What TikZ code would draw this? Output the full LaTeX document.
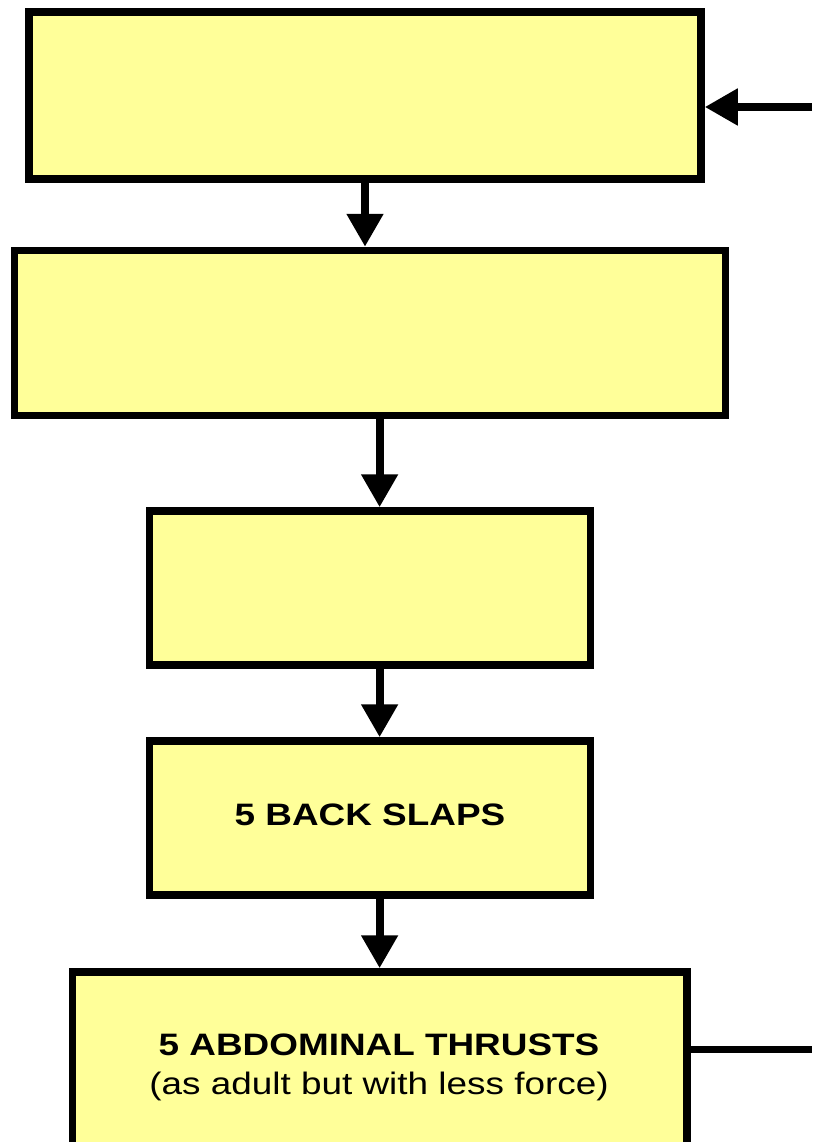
\documentclass[tikz,border=0pt]{standalone}
\usepackage{fontspec}
\setmainfont{Liberation Sans}
\usetikzlibrary{arrows.meta}
\definecolor{boxyellow}{HTML}{FFFF99}
\newcommand{\wide}[1]{\scalebox{1.19}[1]{#1}}
\tikzset{
  stepbox/.style={draw=black, fill=boxyellow, line width=7.5pt, rectangle,
    inner sep=0pt, align=center, font=\fontsize{31}{36}\selectfont\bfseries},
  flow/.style={line width=8pt, -{Triangle[length=33pt,width=35pt]}},
  link/.style={line width=7.5pt},
  caption/.style={inner sep=0pt, anchor=base, font=\fontsize{31}{36}\selectfont}
}
\begin{document}
\begin{tikzpicture}[x=1pt, y=-1pt]
  % page area
  \fill[white] (0,0) rectangle (812,1142);
  \clip (0,0) rectangle (812,1142);

  % boxes
  \node[stepbox, minimum width=672pt, minimum height=167pt] (b1) at (365,95.5) {};
  \node[stepbox, minimum width=711pt, minimum height=165pt] (b2) at (370,333) {};
  \node[stepbox, minimum width=441pt, minimum height=154pt] (b3) at (370,588) {};
  \node[stepbox, minimum width=441pt, minimum height=154pt, text depth=6pt] (b4) at (370,818) {\wide{5 BACK SLAPS}};
  \node[stepbox, minimum width=614.5pt, minimum height=200pt] (b5) at (379.75,1072) {};

  % text of the last box
  \node[caption, font=\fontsize{31}{36}\selectfont\bfseries] (t5a) at (379,1055) {\wide{5 ABDOMINAL THRUSTS}};
  \node[caption] (t5b) at (379,1094) {\wide{(as adult but with less force)}};

  % connector ends at the page edge
  \coordinate (in1) at (812,107);
  \coordinate (out5) at (812,1049.5);
  \coordinate (col) at (379.6,0);

  % arrows
  \draw[flow] (b1.south) -- (b1.south |- b2.north);
  \draw[flow] (b2.south -| col) -- (b3.north -| col);
  \draw[flow] (b3.south -| col) -- (b4.north -| col);
  \draw[flow] (b4.south -| col) -- (b5.north -| col);
  \draw[flow] (in1) -- (in1 -| b1.east);
  \draw[link] (out5 -| b5.east) -- (out5);
\end{tikzpicture}
\end{document}
